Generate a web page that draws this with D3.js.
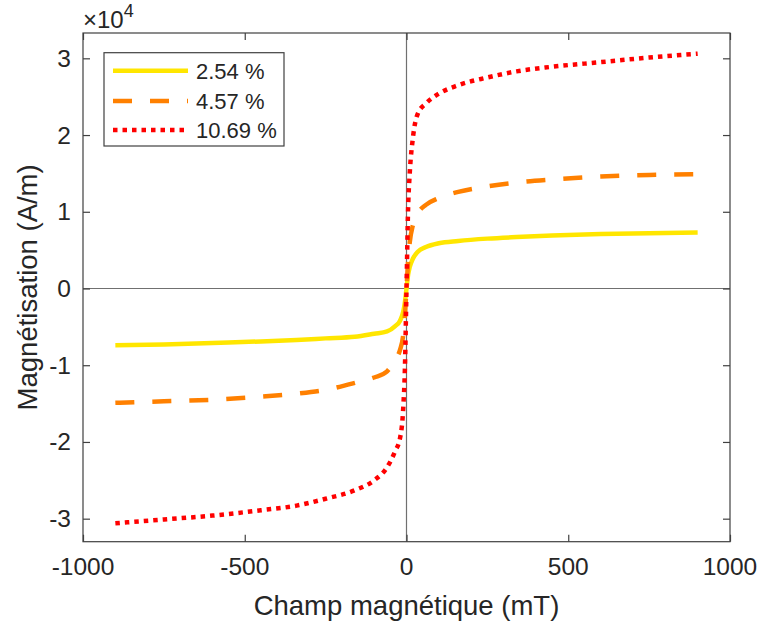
<!DOCTYPE html>
<html><head><meta charset="utf-8">
<script src="https://cdn.jsdelivr.net/npm/d3@7"></script>
<style>
body{margin:0;background:#fff;}
svg text{font-family:"Liberation Sans",Arial,Helvetica,sans-serif;fill:#262626;}
</style></head>
<body><svg id="c" width="758" height="626"></svg>
<script>
// Field (mT)
const field = [-900,-750,-600,-450,-340,-250,-160,-100,-60,-35,-20,-10,-5,0,5,10,20,35,60,100,160,250,340,450,600,750,900];
// Magnetisation (A/m)
const m254  = [-7400,-7300,-7100,-6900,-6700,-6500,-6300,-5900,-5600,-4900,-4200,-3000,-1800,0,1800,2800,3900,4800,5400,5900,6200,6500,6700,6900,7100,7200,7300];
const m457  = [-14900,-14700,-14500,-14100,-13700,-13200,-12300,-11600,-10800,-9300,-8000,-6000,-3600,0,3600,6000,8300,9800,10900,11800,12600,13300,13800,14200,14600,14800,14900];
const m1069 = [-30600,-30100,-29600,-28900,-28300,-27400,-26300,-25000,-23300,-21200,-19500,-15500,-10500,0,10500,15000,19700,22800,24100,25400,26500,27500,28300,28900,29500,30100,30600];
const seriesNames = ["2.54 %","4.57 %","10.69 %"];
const xTicks = [-1000,-500,0,500,1000];
const yTicks = [-30000,-20000,-10000,0,10000,20000,30000];

const svg = d3.select("#c");
const L=83,R=730,T=33,B=541.7;
const x = d3.scaleLinear().domain([-1000,1000]).range([L,R]);
const y = d3.scaleLinear().domain([-33000,33300]).range([B,T]);
const axisCol="#404040";

// zero lines
svg.append("line").attr("x1",x(0)).attr("x2",x(0)).attr("y1",T).attr("y2",B).attr("stroke","#707070").attr("stroke-width",1.2);
svg.append("line").attr("x1",L).attr("x2",R).attr("y1",y(0)).attr("y2",y(0)).attr("stroke","#707070").attr("stroke-width",1.2);

const styles = [
  {name:seriesNames[0],data:m254,color:"#FFE600",dash:null},
  {name:seriesNames[1],data:m457,color:"#FF8000",dash:"19,18"},
  {name:seriesNames[2],data:m1069,color:"#FF0000",dash:"4.5,5"}
];
const line = d3.line().x(d=>x(d[0])).y(d=>y(d[1])).curve(d3.curveMonotoneX);
styles.forEach(s=>{
  svg.append("path").datum(field.map((f,i)=>[f,s.data[i]]))
    .attr("d",line).attr("fill","none").attr("stroke",s.color)
    .attr("stroke-width",4.5).attr("stroke-dasharray",s.dash);
});

// axes (inward ticks)
const fmtY = d=>String(d/10000);
const gx = svg.append("g").attr("transform",`translate(0,${B})`)
  .call(d3.axisTop(x).tickValues(xTicks).tickSize(7).tickFormat(""));
const gxt = svg.append("g").attr("transform",`translate(0,${T})`)
  .call(d3.axisBottom(x).tickValues(xTicks).tickSize(7).tickFormat(""));
const gy = svg.append("g").attr("transform",`translate(${L},0)`)
  .call(d3.axisRight(y).tickValues(yTicks).tickSize(7).tickFormat(""));
const gyr = svg.append("g").attr("transform",`translate(${R},0)`)
  .call(d3.axisLeft(y).tickValues(yTicks).tickSize(7).tickFormat(""));
[gx,gxt,gy,gyr].forEach(g=>{
  g.selectAll(".domain").remove();
  g.selectAll(".tick line").attr("stroke",axisCol).attr("stroke-width",1.2);
});
svg.append("rect").attr("x",L).attr("y",T).attr("width",R-L).attr("height",B-T)
  .attr("fill","none").attr("stroke",axisCol).attr("stroke-width",1.2);

// tick labels
svg.append("g").selectAll("text").data(xTicks).join("text")
  .attr("x",d=>x(d)).attr("y",575).attr("text-anchor","middle")
  .attr("font-size",24.5).text(d=>d);
svg.append("g").selectAll("text").data(yTicks).join("text")
  .attr("x",71).attr("y",d=>y(d)+8.5).attr("text-anchor","end")
  .attr("font-size",24.5).text(fmtY);

// exponent
const ex = svg.append("text").attr("x",83).attr("y",28).attr("font-size",24);
ex.append("tspan").text("×10");
ex.append("tspan").attr("dy",-11).attr("font-size",18).text("4");

// axis labels
svg.append("text").attr("x",x(0)).attr("y",615).attr("text-anchor","middle")
  .attr("font-size",27.5).text("Champ magnétique (mT)");
svg.append("text").attr("transform",`translate(37,${(T+B)/2}) rotate(-90)`)
  .attr("text-anchor","middle").attr("font-size",27.5).text("Magnétisation (A/m)");

// legend
const lg = svg.append("g");
lg.append("rect").attr("x",104).attr("y",52.7).attr("width",180).attr("height",93.3)
  .attr("fill","#fff").attr("stroke",axisCol).attr("stroke-width",1.2);
const ly=[70.7,101,130];
styles.forEach((s,i)=>{
  lg.append("line").attr("x1",113).attr("x2",188).attr("y1",ly[i]).attr("y2",ly[i])
    .attr("stroke",s.color).attr("stroke-width",4.5).attr("stroke-dasharray",s.dash);
  lg.append("text").attr("x",196).attr("y",ly[i]+8).attr("font-size",22).text(s.name);
});
</script></body></html>
